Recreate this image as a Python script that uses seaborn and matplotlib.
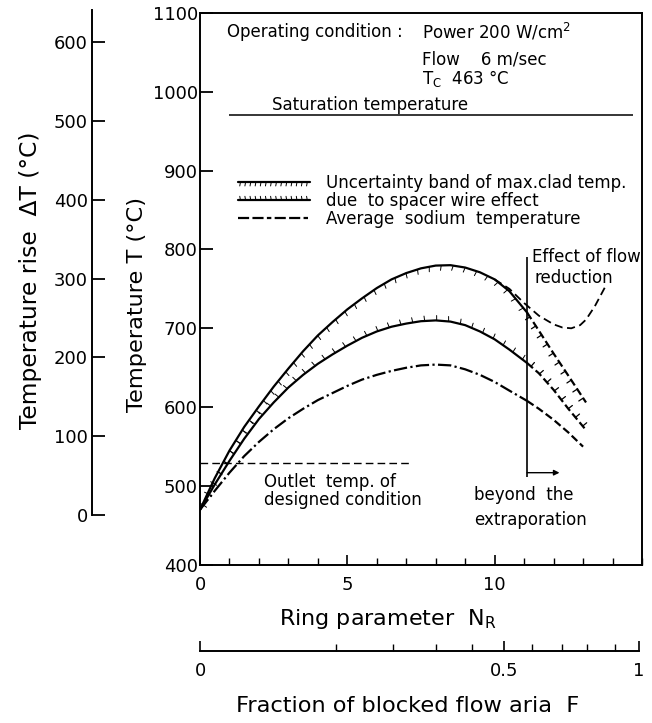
import numpy as np
import matplotlib
matplotlib.use("Agg")
import matplotlib.pyplot as plt
import matplotlib.patheffects as pe
from matplotlib.lines import Line2D
from matplotlib.ticker import FixedLocator, FixedFormatter, MultipleLocator
import seaborn as sns

# ---------------- data ----------------
NR = [0, 0.5, 1, 1.5, 2, 2.5, 3, 3.5, 4, 4.5, 5, 5.5, 6, 6.5, 7, 7.5, 8,
      8.5, 9, 9.5, 10, 10.5, 11.1]
T_CLAD_UPPER = [470, 510, 545, 575, 601, 626, 649, 671, 691, 708, 724, 738,
                751, 762, 770, 776, 779.5, 780, 777, 771, 762, 747, 720]
T_CLAD_LOWER = [470, 502, 532, 560, 585, 606, 625, 641, 655, 667, 678, 688,
                696, 702, 706, 709, 710, 708.5, 704, 696, 686, 673, 656]
T_SODIUM = [470, 494, 517, 538, 556, 572, 586, 598, 609, 618, 627, 635,
            641, 646, 650, 653, 654, 653, 648, 641, 632, 621, 608]

NR_EXTRA = [11.1, 11.5, 12.0, 12.5, 13.1]
T_CLAD_UPPER_EXTRA = [720, 697, 668, 640, 606]
T_CLAD_LOWER_EXTRA = [656, 643, 622, 598, 571]
NR_SODIUM_EXTRA = [11.1, 11.5, 12.0, 12.5, 13.0]
T_SODIUM_EXTRA = [608, 598, 584, 568, 550]

NR_FLOW = [10.0, 10.5, 11.0, 11.5, 12.0, 12.3, 12.6, 12.9, 13.1, 13.4, 13.8]
T_FLOW = [762, 750, 732, 716, 705, 701, 700, 704, 711, 728, 756]

T_SATURATION = 970
T_OUTLET = 529
T_INLET = 463
NR_LIMIT = 11.1

F_MARKS = [0, 0.1, 0.2, 0.3, 0.4, 0.5, 0.6, 0.7, 0.8, 0.9, 1.0]
NR_AT_F = [0, 4.63, 6.56, 8.02, 9.24, 10.32, 11.27, 12.29, 13.14, 14.08, 14.9]
F_LABELS = ["0", "0.5", "1"]

Y_TICKS = [400, 500, 600, 700, 800, 900, 1000, 1100]
DT_TICKS = [0, 100, 200, 300, 400, 500, 600]
X_TICKS = [0, 5, 10]

LEGEND_LABELS = ["Uncertainty band of max.clad temp.",
                 "due  to spacer wire effect",
                 "Average  sodium  temperature"]


# ---------------- mapping N_R <-> F (from the two scales) ----------------
def _interp_ext(v, xs, ys):
    v = np.asarray(v, dtype=float)
    xs = np.asarray(xs, dtype=float)
    ys = np.asarray(ys, dtype=float)
    out = np.interp(v, xs, ys)
    s_lo = (ys[1] - ys[0]) / (xs[1] - xs[0])
    s_hi = (ys[-1] - ys[-2]) / (xs[-1] - xs[-2])
    out = np.where(v < xs[0], ys[0] + (v - xs[0]) * s_lo, out)
    out = np.where(v > xs[-1], ys[-1] + (v - xs[-1]) * s_hi, out)
    return out


def nr_to_f(n):
    return _interp_ext(n, NR_AT_F, F_MARKS)


def f_to_nr(f):
    return _interp_ext(f, F_MARKS, NR_AT_F)


# ---------------- style ----------------
sns.set_theme(style="white")
plt.rcParams["font.family"] = ["DejaVu Sans"]
plt.rcParams["axes.edgecolor"] = "black"
plt.rcParams["text.color"] = "black"
plt.rcParams["xtick.color"] = "black"
plt.rcParams["ytick.color"] = "black"
plt.rcParams["axes.labelcolor"] = "black"

FS = 12
LW = 1.6
SPINE_LW = 1.4

fig = plt.figure(figsize=(6.52, 7.23), dpi=100)
ax = fig.add_axes([200 / 652, 158 / 723, 442 / 652, 552.3 / 723])

tick_kw = dict(spacing=8.5, length=0.42, linewidth=0.7)
ext_tick_kw = dict(spacing=7.5, length=0.5, linewidth=0.9)
dash_ext = (0, (3.5, 1.6))
dashdot = (0, (6, 1.5, 1, 1.5))

# solid band curves with ticks pointing into the band
sns.lineplot(x=NR, y=T_CLAD_UPPER, ax=ax, color="black", lw=LW, errorbar=None,
             path_effects=[pe.withTickedStroke(angle=-100, **tick_kw)])
sns.lineplot(x=NR, y=T_CLAD_LOWER, ax=ax, color="black", lw=LW, errorbar=None,
             path_effects=[pe.withTickedStroke(angle=95, **tick_kw)])
sns.lineplot(x=NR, y=T_SODIUM, ax=ax, color="black", lw=LW, errorbar=None,
             ls=dashdot)

# extrapolated parts (dashed, ticks drawn separately)
sns.lineplot(x=NR_EXTRA, y=T_CLAD_UPPER_EXTRA, ax=ax, color="black", lw=LW,
             errorbar=None, ls=dash_ext)
sns.lineplot(x=NR_EXTRA, y=T_CLAD_UPPER_EXTRA, ax=ax, color="black", lw=LW,
             errorbar=None, path_effects=[pe.TickedStroke(angle=-90, **ext_tick_kw)])
sns.lineplot(x=NR_EXTRA, y=T_CLAD_LOWER_EXTRA, ax=ax, color="black", lw=LW,
             errorbar=None, ls=dash_ext)
sns.lineplot(x=NR_EXTRA, y=T_CLAD_LOWER_EXTRA, ax=ax, color="black", lw=LW,
             errorbar=None, path_effects=[pe.TickedStroke(angle=90, **ext_tick_kw)])
sns.lineplot(x=NR_SODIUM_EXTRA, y=T_SODIUM_EXTRA, ax=ax, color="black", lw=LW,
             errorbar=None, ls=dash_ext)

# effect of flow reduction
sns.lineplot(x=NR_FLOW, y=T_FLOW, ax=ax, color="black", lw=1.3,
             errorbar=None, ls=(0, (4.5, 2.5)))

# reference lines
ax.hlines(T_SATURATION, 1.0, 14.7, color="black", lw=1.1)
ax.hlines(T_OUTLET, 0, 7.2, color="black", lw=1.0, linestyles=[(0, (5.5, 3))])
ax.vlines(NR_LIMIT, 511, 790, color="black", lw=1.2)
ax.annotate("", xy=(12.2, 517), xytext=(NR_LIMIT, 517),
            arrowprops=dict(arrowstyle="-|>", color="black", lw=1.0,
                            mutation_scale=8, shrinkA=0, shrinkB=0))

# texts
ax.text(0.93, 1076, "Operating condition :", fontsize=FS, va="center")
ax.text(7.54, 1076, "Power 200 W/cm$^\\mathregular{2}$", fontsize=FS, va="center")
ax.text(7.54, 1041, "Flow    6 m/sec", fontsize=FS, va="center")
ax.text(7.54, 1017, "T$_\\mathregular{C}$  463 °C", fontsize=FS, va="center")
ax.text(2.43, 977, "Saturation temperature", fontsize=FS, va="baseline")
ax.text(2.18, 505, "Outlet  temp. of", fontsize=FS, va="center")
ax.text(2.18, 482, "designed condition", fontsize=FS, va="center")
ax.text(9.3, 489, "beyond  the", fontsize=FS, va="center")
ax.text(9.3, 457, "extraporation", fontsize=FS, va="center")
ax.text(11.27, 790, "Effect of flow", fontsize=FS, va="center", clip_on=True)
ax.text(11.34, 764, "reduction", fontsize=FS, va="center")

# legend
leg_tick = dict(spacing=3.5, length=0.8, linewidth=0.7)
handles = [
    Line2D([], [], color="black", lw=LW,
           path_effects=[pe.withTickedStroke(angle=-100, **leg_tick)]),
    Line2D([], [], color="black", lw=LW,
           path_effects=[pe.withTickedStroke(angle=100, **leg_tick)]),
    Line2D([], [], color="black", lw=LW, ls=(0, (5, 1.5, 5, 1.5, 2, 1.5))),
]
ax.legend(handles, LEGEND_LABELS, loc="upper left", bbox_to_anchor=(0.086, 0.708),
          frameon=False, fontsize=FS, handlelength=4.3, handletextpad=1.0,
          labelspacing=0.0, borderpad=0, borderaxespad=0)

# main axes
ax.set_xlim(0, 15)
ax.set_ylim(400, 1100)
ax.set_yticks(Y_TICKS)
ax.set_xticks(X_TICKS)
ax.xaxis.set_minor_locator(MultipleLocator(1))
for s in ax.spines.values():
    s.set_visible(True)
    s.set_linewidth(SPINE_LW)
    s.set_color("black")
ax.tick_params(axis="y", which="major", direction="in", length=9, width=1.3,
               labelsize=13, pad=1.5, left=True, right=False)
ax.tick_params(axis="x", which="major", direction="in", length=7, width=1.2,
               labelsize=13, pad=8, bottom=True, top=False)
ax.tick_params(axis="x", which="minor", direction="in", length=5, width=1.0,
               bottom=True, top=False)
ax.set_xlabel("Ring parameter  N$_\\mathregular{R}$", fontsize=16, va="top")
ax.xaxis.set_label_coords(0.425, -0.076)
ax.set_ylabel("Temperature T (°C)", fontsize=16.2)
ax.yaxis.set_label_coords(-0.12, 0.471)

# temperature rise axis
sec_y = ax.secondary_yaxis(-0.2443, functions=(lambda t: np.asarray(t) - T_INLET,
                                               lambda d: np.asarray(d) + T_INLET))
sec_y.set_yticks(DT_TICKS)
sec_y.tick_params(direction="in", length=9, width=1.3, labelsize=13, pad=3)
sec_y.spines["left"].set_bounds(0, 640)
sec_y.spines["left"].set_linewidth(SPINE_LW)
sec_y.spines["left"].set_color("black")
sec_y.set_ylabel("Temperature rise  ΔT (°C)", fontsize=16.8)
sec_y.yaxis.set_label_coords(-0.357, 0.516, transform=ax.transAxes)

# fraction of blocked flow area axis
sec_x = ax.secondary_xaxis(-0.156, functions=(nr_to_f, f_to_nr))
sec_x.xaxis.set_major_locator(FixedLocator([0, 0.5, 1]))
sec_x.xaxis.set_major_formatter(FixedFormatter(F_LABELS))
sec_x.xaxis.set_minor_locator(FixedLocator(F_MARKS))
sec_x.spines["bottom"].set_bounds(0, 1)
sec_x.spines["bottom"].set_linewidth(SPINE_LW)
sec_x.spines["bottom"].set_color("black")
sec_x.tick_params(which="major", direction="in", length=7, width=1.2,
                  labelsize=13, pad=8)
sec_x.tick_params(which="minor", direction="in", length=5, width=1.0)
sec_x.set_xlabel("Fraction of blocked flow aria  F", fontsize=16.2, va="top")
sec_x.xaxis.set_label_coords(0.469, -0.237, transform=ax.transAxes)

fig.savefig("out.png", dpi=100)
